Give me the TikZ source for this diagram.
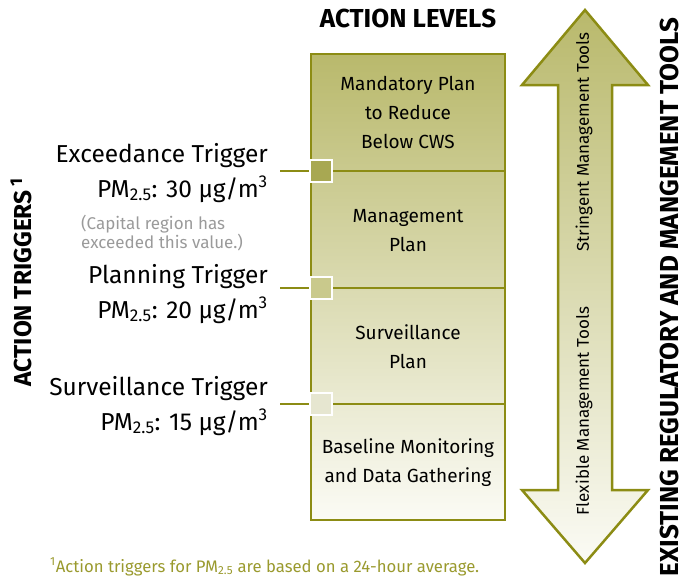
\documentclass[tikz,border=0pt]{standalone}
\usepackage{fontspec}
\setmainfont{Fira Sans}
\usetikzlibrary{positioning}

\definecolor{levelline}{HTML}{8C8C14}
\definecolor{leveltop}{HTML}{B9B96C}
\definecolor{levelbottom}{HTML}{FBFBF5}
\definecolor{trigdark}{HTML}{A8A852}
\definecolor{trigmid}{HTML}{C9C98C}
\definecolor{triglight}{HTML}{E6E6D0}
\definecolor{notegray}{HTML}{9A9A9A}
\definecolor{noteolive}{HTML}{9A9A2E}

\newcommand{\trigfont}{\fontsize{24.5}{28}\selectfont}
\newcommand{\levelfont}{\fontsize{19}{29}\selectfont}
\newcommand{\headfont}{\fontsize{26}{30}\selectfont\bfseries}

\tikzset{
  triglabel/.style={anchor=base east, inner sep=0pt, font=\trigfont},
  levellabel/.style={align=center, inner sep=0pt, font=\levelfont},
  trigsquare/.style={draw=white, line width=2pt, minimum size=22pt, inner sep=0pt},
  trigline/.style={levelline, line width=2.5pt},
}

\begin{document}
\begin{tikzpicture}[x=1pt, y=-1pt]
    \useasboundingbox (0,0) rectangle (687,576);

    %% headings
    \node[font=\headfont] (levels) at (408,18) {ACTION LEVELS};
    \node[font=\fontsize{24.5}{28}\selectfont\bfseries, rotate=90] (triggers) at (21,282) {ACTION TRIGGERS\,\textsuperscript{1}};
    \node[font=\headfont, rotate=90] (tools) at (669,297) {EXISTING REGULATORY AND MANGEMENT TOOLS};

    %% drawing the action levels
    \shade[top color=leveltop, bottom color=levelbottom] (311,54) rectangle (505,520);
    \draw[levelline, line width=2.5pt] (311,54) rectangle (505,520);
    \foreach \y in {171,288,404}
      \draw[levelline, line width=2.5pt] (311,\y) -- (505,\y);

    \node[levellabel] (mandatory) at (408,112) {Mandatory Plan\\to Reduce\\Below CWS};
    \node[levellabel] (management) at (408,231) {Management\\Plan};
    \node[levellabel] (surveillance) at (408,347) {Surveillance\\Plan};
    \node[levellabel] (baseline) at (408,463) {Baseline Monitoring\\and Data Gathering};

    %% drawing the triggers
    \node[trigsquare, fill=trigdark] (sq exc) at (321,171) {};
    \node[trigsquare, fill=trigmid] (sq plan) at (321,288) {};
    \node[trigsquare, fill=triglight] (sq surv) at (321,404) {};
    \coordinate (end exc) at (280,171);
    \coordinate (end plan) at (280,288);
    \coordinate (end surv) at (280,404);
    \draw[trigline] (end exc) -- (sq exc.west);
    \draw[trigline] (end plan) -- (sq plan.west);
    \draw[trigline] (end surv) -- (sq surv.west);

    \node[triglabel] (exc) at (268,162) {Exceedance Trigger};
    \node[triglabel] (exc pm) at (268,197) {PM\textsubscript{2.5}: 30 µg/m\textsuperscript{3}};
    \node[anchor=base west, inner sep=0pt, align=left, font=\fontsize{17}{19}\selectfont, text=notegray] (capital) at (81,248) {(Capital region has\\exceeded this value.)};
    \node[triglabel] (plan) at (268,283) {Planning Trigger};
    \node[triglabel] (plan pm) at (268,318) {PM\textsubscript{2.5}: 20 µg/m\textsuperscript{3}};
    \node[triglabel] (surv) at (268,395) {Surveillance Trigger};
    \node[triglabel] (surv pm) at (268,430) {PM\textsubscript{2.5}: 15 µg/m\textsuperscript{3}};

    %% drawing the tools arrow
    \shade[top color=leveltop, bottom color=levelbottom]
      (585,10) -- (648,85) -- (612,85) -- (612,490) -- (648,490) -- (585,563)
      -- (522,490) -- (558,490) -- (558,85) -- (522,85) -- cycle;
    \draw[levelline, line width=2.5pt, line join=miter]
      (585,10) -- (648,85) -- (612,85) -- (612,490) -- (648,490) -- (585,563)
      -- (522,490) -- (558,490) -- (558,85) -- (522,85) -- cycle;
    \node[rotate=90, font=\fontsize{17}{19}\selectfont] (stringent) at (584,142) {Stringent Management Tools};
    \node[rotate=90, font=\fontsize{17}{19}\selectfont] (flexible) at (584,411) {Flexible Management Tools};

    %% footnote
    \node[anchor=base west, inner sep=0pt, font=\fontsize{16.7}{19}\selectfont, text=noteolive] (footnote) at (50,572)
      {\textsuperscript{1}Action triggers for PM\textsubscript{2.5} are based on a 24-hour average.};
\end{tikzpicture}
\end{document}
